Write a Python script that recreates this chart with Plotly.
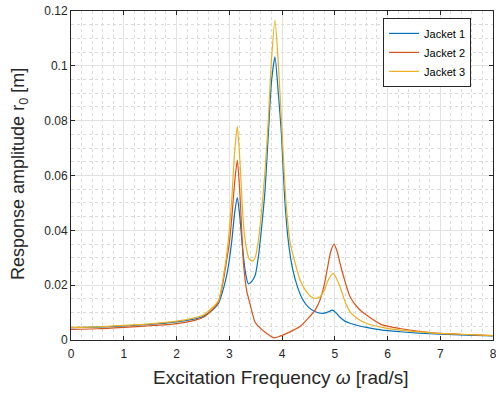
import plotly.graph_objects as go

# Data
x_j1 = [0, 0.5, 1.0, 1.5, 2.0, 2.3, 2.5, 2.7, 2.8, 2.9, 2.95, 3.0, 3.05, 3.1, 3.153, 3.2, 3.25, 3.3, 3.36, 3.42,
        3.49, 3.55, 3.615, 3.68, 3.74, 3.80, 3.867, 3.93, 3.99, 4.05, 4.12, 4.2, 4.3, 4.4, 4.5, 4.63, 4.78, 4.87,
        4.96, 5.03, 5.1, 5.2, 5.29, 5.45, 5.6, 5.9, 6.24, 6.6, 7.0, 7.5, 8.0]
y_j1 = [0.0045, 0.0047, 0.0051, 0.0057, 0.0066, 0.0075, 0.0086, 0.0112, 0.0135, 0.0195, 0.0235, 0.029, 0.0365,
        0.046, 0.0519, 0.045, 0.034, 0.0255, 0.0205, 0.0212, 0.0235, 0.030, 0.0413, 0.055, 0.075, 0.094, 0.1033,
        0.090, 0.075, 0.052, 0.036, 0.026, 0.019, 0.0145, 0.012, 0.0103, 0.0097, 0.0102, 0.0109, 0.0098, 0.0083,
        0.0068, 0.0061, 0.0052, 0.0046, 0.0036, 0.0030, 0.0025, 0.0021, 0.0018, 0.0015]

x_j2 = [0, 0.5, 1.0, 1.5, 2.0, 2.3, 2.5, 2.7, 2.8, 2.9, 2.95, 3.0, 3.05, 3.1, 3.153, 3.2, 3.27, 3.33, 3.39, 3.49,
        3.58, 3.68, 3.77, 3.85, 3.95, 4.1, 4.34, 4.5, 4.63, 4.72, 4.8, 4.85, 4.92, 4.986, 5.05, 5.1, 5.2, 5.29,
        5.45, 5.6, 5.9, 6.24, 6.6, 7.0, 7.5, 8.0]
y_j2 = [0.0039, 0.0041, 0.0046, 0.0052, 0.0060, 0.0070, 0.0082, 0.0115, 0.0140, 0.0230, 0.0290, 0.0350, 0.0450,
        0.0570, 0.0656, 0.0540, 0.0280, 0.0180, 0.0134, 0.0065, 0.0045, 0.0028, 0.0016, 0.0008, 0.0013, 0.0025,
        0.0049, 0.0080, 0.0110, 0.0146, 0.0200, 0.0250, 0.0320, 0.0350, 0.0320, 0.0280, 0.0210, 0.0158, 0.0115,
        0.0091, 0.0055, 0.0042, 0.0032, 0.0024, 0.0020, 0.0016]

x_j3 = [0, 0.5, 1.0, 1.5, 2.0, 2.3, 2.5, 2.7, 2.8, 2.9, 2.95, 3.0, 3.05, 3.1, 3.153, 3.2, 3.27, 3.33, 3.38, 3.44,
        3.49, 3.55, 3.615, 3.68, 3.74, 3.80, 3.867, 3.93, 3.99, 4.05, 4.09, 4.15, 4.25, 4.35, 4.45, 4.55, 4.63,
        4.72, 4.8, 4.88, 4.97, 5.03, 5.1, 5.2, 5.29, 5.45, 5.6, 5.9, 6.24, 6.6, 7.0, 7.5, 8.0]
y_j3 = [0.0046, 0.0048, 0.0053, 0.0059, 0.0069, 0.0079, 0.0090, 0.0122, 0.0145, 0.0245, 0.0310, 0.0400, 0.0520,
        0.0680, 0.0780, 0.0660, 0.0420, 0.0330, 0.0295, 0.0288, 0.0300, 0.0360, 0.0474, 0.0620, 0.0800, 0.1020,
        0.1167, 0.1010, 0.0800, 0.0580, 0.0470, 0.0360, 0.0280, 0.0215, 0.0180, 0.0158, 0.0152, 0.0158, 0.0180,
        0.0220, 0.0243, 0.0225, 0.0194, 0.0138, 0.0103, 0.0076, 0.0061, 0.0046, 0.0036, 0.0030, 0.0024, 0.0020,
        0.0016]

series_names = ["Jacket 1", "Jacket 2", "Jacket 3"]
series_colors = ["#0072BD", "#D95319", "#EDB120"]

x_ticks = [0, 1, 2, 3, 4, 5, 6, 7, 8]
y_ticks = [0, 0.02, 0.04, 0.06, 0.08, 0.1, 0.12]
y_tick_labels = ["0", "0.02", "0.04", "0.06", "0.08", "0.1", "0.12"]

x_title = "Excitation Frequency <i>ω</i> [rad/s]"
y_title = "Response amplitude r<sub>0</sub> [m]"

FONT = "Liberation Sans, Arial, Helvetica, sans-serif"
AX = "#262626"

fig = go.Figure()
for xs, ys, name, col in zip([x_j1, x_j2, x_j3], [y_j1, y_j2, y_j3], series_names, series_colors):
    fig.add_trace(go.Scatter(x=xs, y=ys, mode="lines", name=name,
                             line=dict(color=col, width=1.2, shape="spline", smoothing=0.6)))

axis_common = dict(
    showline=True, linecolor=AX, linewidth=1, mirror="ticks",
    ticks="inside", ticklen=4, tickcolor=AX, tickwidth=1,
    showgrid=True, gridcolor="#e2e2e2", gridwidth=1.2,
    zeroline=False, automargin=False, ticklabeloverflow="allow",
    tickfont=dict(family=FONT, size=12, color=AX),
)

fig.update_xaxes(
    range=[0, 8], tickvals=x_ticks, ticklabelstandoff=3,
    minor=dict(dtick=0.2, showgrid=True, gridcolor="#dadada", griddash="dot", gridwidth=1, ticks=""),
    **axis_common,
)
fig.update_yaxes(
    range=[0, 0.12], tickvals=y_ticks, ticktext=y_tick_labels,
    minor=dict(dtick=0.005, showgrid=True, gridcolor="#dadada", griddash="dot", gridwidth=1, ticks=""),
    **axis_common,
)

fig.add_annotation(text=x_title, xref="paper", yref="paper", x=0.4976, y=-0.1125,
                   xanchor="center", yanchor="middle", showarrow=False,
                   font=dict(family=FONT, size=19, color=AX))
fig.add_annotation(text=y_title, xref="paper", yref="paper", x=-0.1209, y=0.5046,
                   xanchor="center", yanchor="middle", showarrow=False, textangle=-90,
                   font=dict(family=FONT, size=18, color=AX))

fig.update_layout(
    width=496, height=394,
    margin=dict(l=71, r=3, t=11, b=54),
    paper_bgcolor="white", plot_bgcolor="white",
    font=dict(family=FONT, color=AX),
    legend=dict(x=0.948, y=0.979, xanchor="right", yanchor="top",
                bgcolor="white", bordercolor=AX, borderwidth=1,
                font=dict(family=FONT, size=11, color="#000000"),
                tracegroupgap=0, itemwidth=30),
    showlegend=True,
)

fig.write_html("out.html", config={"displayModeBar": False},
               post_script="document.body.style.margin='0';document.body.style.overflow='hidden';")
